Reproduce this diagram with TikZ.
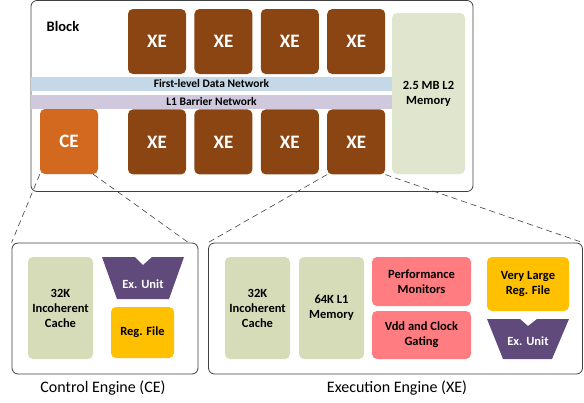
\documentclass[tikz,border=0pt]{standalone}
\usepackage{fontspec}
\setmainfont{Carlito}
\definecolor{xebrown}{HTML}{8B4513}
\definecolor{ceorange}{HTML}{D2691E}
\definecolor{netblue}{HTML}{C5D8E8}
\definecolor{barrierlilac}{HTML}{D0C8DD}
\definecolor{l2green}{HTML}{E0E5CE}
\definecolor{cachegreen}{HTML}{D6DCB8}
\definecolor{monpink}{HTML}{FF7C80}
\definecolor{regyellow}{HTML}{FFC000}
\definecolor{exviolet}{HTML}{604A7B}
\definecolor{framegray}{HTML}{404040}
\usetikzlibrary{positioning}
\tikzstyle{frame} = [
    rectangle,
    rounded corners=6pt,
    draw=framegray,
    line width=0.8pt
]
\tikzstyle{engine} = [
    rectangle,
    rounded corners=5pt,
    fill=xebrown,
    text=white,
    minimum width=58pt,
    minimum height=65pt,
    inner sep=0pt,
    font=\bfseries\fontsize{19}{22}\selectfont
]
\tikzstyle{band} = [
    rectangle,
    minimum width=361pt,
    minimum height=14pt,
    inner sep=0pt,
    font=\bfseries\fontsize{11.5}{13}\selectfont
]
\tikzstyle{unit} = [
    rectangle,
    rounded corners=5pt,
    inner sep=0pt,
    align=center,
    font=\bfseries\fontsize{12.5}{15}\selectfont
]
\tikzstyle{zoomline} = [
    draw=framegray,
    line width=0.6pt,
    dash pattern=on 6pt off 4pt
]
\tikzstyle{caption} = [
    font=\fontsize{16}{18}\selectfont
]

\begin{document}
\begin{tikzpicture}[x=1pt, y=-1pt]
    \useasboundingbox (0,0) rectangle (584,402);

    % Block
    \node[frame, minimum width=442pt, minimum height=191pt] (block) at (252,96) {};
    \node[font=\bfseries\fontsize{14.5}{17}\selectfont] (blocklabel) at (63,26) {Block};

    \node[engine] (xet1) at (157,41.5) {XE};
    \node[engine, right=8pt of xet1] (xet2) {XE};
    \node[engine, right=8pt of xet2] (xet3) {XE};
    \node[engine, right=8pt of xet3] (xet4) {XE};

    \node[engine, below=35pt of xet1] (xeb1) {XE};
    \node[engine, below=35pt of xet2] (xeb2) {XE};
    \node[engine, below=35pt of xet3] (xeb3) {XE};
    \node[engine, below=35pt of xet4] (xeb4) {XE};
    \node[engine, fill=ceorange] (ce) at (69,141.5) {CE};

    \node[band, fill=netblue] (datanet) at (211.5,84) {First-level Data Network};
    \node[band, fill=barrierlilac] (barrier) at (211.5,102) {L1 Barrier Network};

    \node[unit, fill=l2green, minimum width=73pt, minimum height=161pt] (l2) at (428.5,93.5) {2.5 MB L2\\Memory};

    % Control engine
    \node[frame, minimum width=186pt, minimum height=131pt] (cebox) at (105,308.5) {};
    \node[caption] (celabel) at (103,388) {Control Engine (CE)};
    \node[unit, fill=cachegreen, minimum width=65pt, minimum height=102pt] (cecache) at (60.5,308) {32K\\Incoherent\\Cache};
    \fill[exviolet] (102,257) -- (135,257) -- (143,265) -- (152,257) -- (184,257)
        -- (169,299) -- (117,299) -- cycle;
    \node[unit, text=white] (ceexunit) at (143,284) {Ex. Unit};
    \node[unit, fill=regyellow, minimum width=63pt, minimum height=51pt] (ceregs) at (142.5,332.5) {Reg. File};

    % Execution engine
    \node[frame, minimum width=374pt, minimum height=131pt] (xebox) at (395.5,308.5) {};
    \node[caption] (xelabel) at (397,388) {Execution Engine (XE)};
    \node[unit, fill=cachegreen, minimum width=65pt, minimum height=102pt] (xecache) at (257.5,308) {32K\\Incoherent\\Cache};
    \node[unit, fill=cachegreen, minimum width=65pt, minimum height=102pt] (xel1) at (331.5,308) {64K L1\\Memory};
    \node[unit, fill=monpink, minimum width=99pt, minimum height=49pt] (perfmon) at (421.5,281.5) {Performance\\Monitors};
    \node[unit, fill=monpink, minimum width=99pt, minimum height=48pt] (vdd) at (421.5,335) {Vdd and Clock\\Gating};
    \node[unit, fill=regyellow, minimum width=82pt, minimum height=54pt] (xeregs) at (528,284) {Very Large\\Reg. File};
    \fill[exviolet] (487,319) -- (520,319) -- (528,326) -- (537,319) -- (569,319)
        -- (552,359) -- (503,359) -- cycle;
    \node[unit, text=white] (xeexunit) at (528,341) {Ex. Unit};

    % Zoom lines
    \draw[zoomline] (ce.south west) -- (cebox.north west);
    \draw[zoomline] ([xshift=-5pt]ce.south east) -- ([xshift=-10pt]cebox.north east);
    \draw[zoomline] (xeb4.south west) -- (xebox.north west);
    \draw[zoomline] (xeb4.south east) -- (xebox.north east);
\end{tikzpicture}
\end{document}
